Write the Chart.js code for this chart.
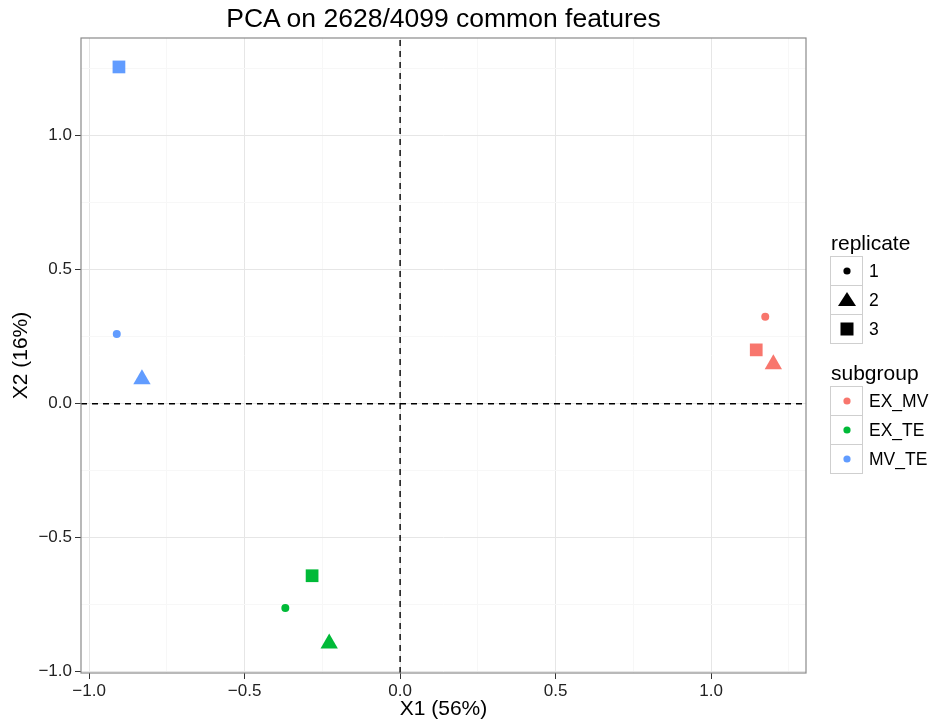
<!DOCTYPE html>
<html>
<head>
<meta charset="utf-8">
<script src="https://cdn.jsdelivr.net/npm/chart.js@4.4.1/dist/chart.umd.min.js"></script>
<style>
  body { margin: 0; background: #fff; font-family: "Liberation Sans", Arial, sans-serif; }
  #wrap { position: relative; width: 935px; height: 723px; }
  #chart { position: absolute; left: 0; top: 0; }
  #title { position: absolute; left: 81px; width: 725px; top: 3px; line-height: 30px;
           text-align: center; font-size: 26.5px; color: #000; }
  .lt { position: absolute; left: 831px; font-size: 21px; line-height: 24px; color: #000; }
  .key { position: absolute; left: 830px; width: 33px; height: 30px; box-sizing: border-box;
         border: 1px solid #cfcfcf; background: #fff; }
  .key svg { display: block; }
  .kl { position: absolute; left: 869px; font-size: 17.5px; line-height: 20px; color: #000; }
</style>
</head>
<body>
<div id="wrap">
  <canvas id="chart" width="935" height="723"></canvas>
  <div id="title">PCA on 2628/4099 common features</div>
  <div id="legend"></div>
</div>
<script>
// subgroups / replicates
const subgroups = ['EX_MV', 'EX_TE', 'MV_TE'];
const replicates = ['1', '2', '3'];

// PC scores, one value per replicate (1, 2, 3)
const exMvX1 = [1.174, 1.200, 1.145];
const exMvX2 = [0.325, 0.147, 0.201];
const exTeX1 = [-0.369, -0.228, -0.283];
const exTeX2 = [-0.762, -0.895, -0.642];
const mvTeX1 = [-0.911, -0.830, -0.904];
const mvTeX2 = [0.260, 0.091, 1.257];

// reference lines at 0
const refX = [0];
const refY = [0];

// axis tick labels (major)
const xTicks = [-1.0, -0.5, 0.0, 0.5, 1.0];
const yTicks = [-1.0, -0.5, 0.0, 0.5, 1.0];

// styles
const colors = ['#F8766D', '#00BA38', '#619CFF'];
const shapes = ['circle', 'triangle', 'rect'];
const radius = [4, 10, 9];

const X_MIN = -1.026, X_MAX = 1.305;
const Y_MIN = -1.005, Y_MAX = 1.365;

Chart.defaults.font.family = '"Liberation Sans", Arial, sans-serif';

const scores = [[exMvX1, exMvX2], [exTeX1, exTeX2], [mvTeX1, mvTeX2]];

const isMajor = v => Math.abs(v * 2 - Math.round(v * 2)) < 1e-6;
const fmt = v => (v < -1e-9 ? '\u2212' : '') + Math.abs(v).toFixed(1);

const datasets = [];
// dashed zero lines
refX.forEach(v => datasets.push({
  type: 'line', data: [{ x: v, y: Y_MIN }, { x: v, y: Y_MAX }],
  borderColor: '#000', borderWidth: 1.4, borderDash: [6, 5], pointRadius: 0, order: 2
}));
refY.forEach(v => datasets.push({
  type: 'line', data: [{ x: X_MIN, y: v }, { x: X_MAX, y: v }],
  borderColor: '#000', borderWidth: 1.4, borderDash: [6, 5], pointRadius: 0, order: 2
}));
subgroups.forEach((g, i) => {
  const [xs, ys] = scores[i];
  datasets.push({
    type: 'scatter',
    label: g,
    data: xs.map((x, j) => ({ x: x, y: ys[j] })),
    pointStyle: shapes,
    pointRadius: radius,
    pointHoverRadius: radius,
    backgroundColor: colors[i],
    borderColor: colors[i],
    borderWidth: 0,
    order: 1
  });
});

const gridColor = ctx => isMajor(ctx.tick.value) ? '#e6e6e6' : '#f7f7f7';
const tickColor = ctx => isMajor(ctx.tick.value) ? '#333' : 'rgba(0,0,0,0)';

// panel border like ggplot theme_bw
const panelBorder = {
  id: 'panelBorder',
  afterDatasetsDraw(chart) {
    const a = chart.chartArea, c = chart.ctx;
    c.save();
    c.strokeStyle = '#8a8a8a';
    c.lineWidth = 1.2;
    c.strokeRect(a.left, a.top, a.right - a.left, a.bottom - a.top);
    c.restore();
  }
};

new Chart(document.getElementById('chart'), {
  data: { datasets },
  options: {
    responsive: false,
    animation: false,
    layout: { padding: { top: 38, right: 129, left: 0, bottom: 0 } },
    plugins: { legend: { display: false }, tooltip: { enabled: false } },
    scales: {
      x: {
        type: 'linear', min: X_MIN, max: X_MAX,
        afterFit: s => { s.height = 50; },
        border: { display: false },
        grid: { color: gridColor, tickColor: tickColor, tickLength: 6, lineWidth: 1 },
        ticks: {
          stepSize: 0.25, includeBounds: false, padding: 2, autoSkip: false, maxRotation: 0,
          color: '#222', font: { size: 17 },
          callback: v => (isMajor(v) && xTicks.some(t => Math.abs(t - v) < 1e-6)) ? fmt(v) : ''
        },
        title: { display: true, text: 'X1 (56%)', color: '#000', font: { size: 21 },
                 padding: { top: 0, bottom: 1 } }
      },
      y: {
        type: 'linear', min: Y_MIN, max: Y_MAX,
        afterFit: s => { s.width = 81; },
        border: { display: false },
        grid: { color: gridColor, tickColor: tickColor, tickLength: 6, lineWidth: 1 },
        ticks: {
          stepSize: 0.25, includeBounds: false, padding: 3, autoSkip: false,
          color: '#222', font: { size: 17 },
          callback: v => (isMajor(v) && yTicks.some(t => Math.abs(t - v) < 1e-6)) ? fmt(v) : ''
        },
        title: { display: true, text: 'X2 (16%)', color: '#000', font: { size: 21 },
                 padding: { top: 9, bottom: 0 } }
      }
    }
  },
  plugins: [panelBorder]
});

// legend (HTML)
const legend = document.getElementById('legend');
function shapeSvg(shape, fill) {
  let s = '';
  if (shape === 'circle') s = `<circle cx="16" cy="14" r="3.6" fill="${fill}"/>`;
  if (shape === 'triangle') s = `<polygon points="16,6 25,20 7,20" fill="${fill}"/>`;
  if (shape === 'rect') s = `<rect x="9.5" y="7.5" width="13" height="13" fill="${fill}"/>`;
  return `<svg width="31" height="28">${s}</svg>`;
}
function addGroup(title, top, labels, makeShape) {
  legend.insertAdjacentHTML('beforeend', `<div class="lt" style="top:${top}px">${title}</div>`);
  labels.forEach((lab, i) => {
    const y = top + 25 + i * 29;
    legend.insertAdjacentHTML('beforeend',
      `<div class="key" style="top:${y}px">${makeShape(i)}</div>` +
      `<div class="kl" style="top:${y + 5}px">${lab}</div>`);
  });
}
addGroup('replicate', 231, replicates, i => shapeSvg(shapes[i], '#000'));
addGroup('subgroup', 361, subgroups, i => shapeSvg('circle', colors[i]));
</script>
</body>
</html>
